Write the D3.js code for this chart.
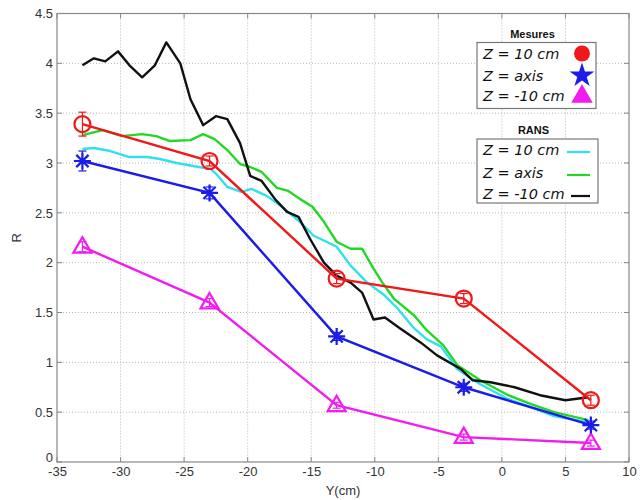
<!DOCTYPE html>
<html><head><meta charset="utf-8">
<script src="https://cdn.jsdelivr.net/npm/d3@7"></script>
<style>body{margin:0;background:#fff}svg{display:block}</style>
</head><body>
<svg id="c" width="643" height="500"></svg>
<script>
// ---------- data ----------
const xTicks = [-35,-30,-25,-20,-15,-10,-5,0,5,10];
const yTicks = [0,0.5,1,1.5,2,2.5,3,3.5,4,4.5];
const yTickLabels = ["0","0.5","1","1.5","2","2.5","3","3.5","4","4.5"];

const measX = [-33,-23,-13,-3,7];
const measZ10 = [3.39,3.02,1.84,1.64,0.62];
const measAxis = [3.02,2.70,1.26,0.75,0.37];
const measZm10 = [2.16,1.60,0.57,0.25,0.19];
const errZ10 = [0.12,0.05,0.05,0.05,0.05];
const errAxis = [0.10,0.06,0.04,0.04,0.04];
const errZm10 = [0.05,0.04,0.03,0.03,0.03];

const ransZ10X = [-33,-32.1,-30.8,-29.3,-27.9,-26.9,-25.6,-24.3,-22.9,-22.4,-21.6,-20.5,-19.7,-18.5,-17.2,-15.9,-14.8,-13.8,-13,-11.9,-10.6,-9.3,-8.2,-6.9,-5.9,-4.8,-3.5,-1.7,0.5,2.3,4.1,6.8];
const ransZ10Y = [3.14,3.15,3.12,3.06,3.06,3.04,3.00,2.97,2.94,2.88,2.76,2.71,2.74,2.67,2.55,2.41,2.27,2.21,2.16,1.97,1.80,1.68,1.54,1.34,1.23,1.16,0.93,0.78,0.63,0.55,0.46,0.40];

const ransAxisX = [-33,-31.4,-29.9,-28.3,-27.2,-26.1,-24.5,-23.5,-22.6,-21.6,-20.6,-19.8,-18.9,-17.7,-16.8,-15.9,-14.9,-14,-13,-11.9,-11,-10.1,-9.4,-8.5,-6.9,-5.9,-4.6,-3.5,-1.7,0.5,2.3,4.1,6.8];
const ransAxisY = [3.28,3.33,3.27,3.29,3.27,3.22,3.23,3.29,3.24,3.13,2.99,2.96,2.91,2.75,2.72,2.64,2.56,2.41,2.21,2.14,2.14,1.94,1.80,1.64,1.47,1.32,1.17,0.97,0.82,0.67,0.58,0.50,0.42];

const ransZm10X = [-33,-32.1,-31.2,-30.2,-29.3,-28.3,-27.3,-26.4,-25.3,-24.5,-23.5,-22.5,-21.6,-20.6,-19.8,-18.9,-17.8,-16.9,-16,-15.1,-14,-13,-11.9,-11,-10.1,-9.2,-8,-6.4,-5.1,-3.2,-2.3,-0.9,1,3,5,6.8];
const ransZm10Y = [3.98,4.05,4.02,4.12,3.98,3.86,3.98,4.21,4.00,3.64,3.38,3.47,3.44,3.20,2.87,2.82,2.63,2.51,2.46,2.24,2.00,1.87,1.80,1.70,1.43,1.45,1.34,1.20,1.07,0.93,0.82,0.80,0.75,0.67,0.62,0.65];

const legendMeas = ["Z = 10 cm","Z = axis","Z = -10 cm"];
const legendRans = ["Z = 10 cm","Z = axis","Z = -10 cm"];

// ---------- layout ----------
const svg = d3.select("#c");
const L=57, R=629, T=13.5, B=462;
const x = d3.scaleLinear().domain([-35,10]).range([L,R]);
const y = d3.scaleLinear().domain([0,4.5]).range([B,T]);

const cRed="#f01818", cBlue="#1c1ce8", cMag="#f01cf0", cCyan="#30e0f0", cGreen="#22d822", cBlack="#111";

// grid
const grid = svg.append("g");
grid.selectAll("line.gx").data(xTicks.slice(1,-1)).join("line")
  .attr("x1",d=>x(d)).attr("x2",d=>x(d)).attr("y1",T).attr("y2",B)
  .attr("stroke","#b8b8b8").attr("stroke-width",1).attr("stroke-dasharray","1,2");
grid.selectAll("line.gy").data(yTicks.slice(1,-1)).join("line")
  .attr("x1",L).attr("x2",R).attr("y1",d=>y(d)).attr("y2",d=>y(d))
  .attr("stroke","#b8b8b8").attr("stroke-width",1).attr("stroke-dasharray","1,2");

// axes
const ax = svg.append("g").attr("transform",`translate(0,${B})`)
  .call(d3.axisBottom(x).tickValues(xTicks).tickSize(0).tickPadding(6).tickFormat(d=>String(d)));
const ay = svg.append("g").attr("transform",`translate(${L},0)`)
  .call(d3.axisLeft(y).tickValues(yTicks).tickSize(0).tickPadding(4).tickFormat((d,i)=>yTickLabels[i]));
[ax,ay].forEach(g=>{
  g.select(".domain").remove();
  g.selectAll("text").attr("font-family","'Liberation Sans',Arial,sans-serif").attr("font-size",13).attr("fill","#333");
});
ax.selectAll("text").attr("dy","0.6em");
ay.selectAll("text").filter(d=>d===0).attr("dy","-0.05em");
// inner ticks on all sides
const tk = svg.append("g").attr("stroke","#888").attr("stroke-width",1);
xTicks.forEach(v=>{
  tk.append("line").attr("x1",x(v)).attr("x2",x(v)).attr("y1",B).attr("y2",B-5);
  tk.append("line").attr("x1",x(v)).attr("x2",x(v)).attr("y1",T).attr("y2",T+5);
});
yTicks.forEach(v=>{
  tk.append("line").attr("x1",L).attr("x2",L+5).attr("y1",y(v)).attr("y2",y(v));
  tk.append("line").attr("x1",R).attr("x2",R-5).attr("y1",y(v)).attr("y2",y(v));
});
svg.append("rect").attr("x",L).attr("y",T).attr("width",R-L).attr("height",B-T)
  .attr("fill","none").attr("stroke","#888").attr("stroke-width",1.2);

svg.append("text").attr("x",x(-12.5)).attr("y",495).attr("text-anchor","middle")
  .attr("font-family","'Liberation Sans',Arial,sans-serif").attr("font-size",13).attr("fill","#333").text("Y(cm)");
svg.append("text").attr("transform",`translate(21,${y(2.25)}) rotate(-90)`).attr("text-anchor","middle")
  .attr("font-family","'Liberation Sans',Arial,sans-serif").attr("font-size",13).attr("fill","#333").text("R");

// RANS lines
const line = d3.line().x(d=>x(d[0])).y(d=>y(d[1]));
const ransSeries = [
  {xs:ransAxisX, ys:ransAxisY, c:cGreen},
  {xs:ransZ10X, ys:ransZ10Y, c:cCyan},
  {xs:ransZm10X, ys:ransZm10Y, c:cBlack}
];
ransSeries.forEach(s=>{
  svg.append("path").datum(s.xs.map((v,i)=>[v,s.ys[i]])).attr("d",line)
    .attr("fill","none").attr("stroke",s.c).attr("stroke-width",2.4).attr("stroke-linejoin","round");
});

// measurements
const measSeries = [
  {ys:measZm10, e:errZm10, c:cMag, m:"tri"},
  {ys:measAxis, e:errAxis, c:cBlue, m:"star"},
  {ys:measZ10, e:errZ10, c:cRed, m:"circ"}
];
measSeries.forEach(s=>{
  const pts = measX.map((v,i)=>[v,s.ys[i],s.e[i]]);
  svg.append("path").datum(pts).attr("d",line).attr("fill","none").attr("stroke",s.c).attr("stroke-width",2.4);
  const g = svg.append("g").attr("stroke",s.c).attr("fill","none").attr("stroke-width",2.2);
  pts.forEach(p=>{
    const px=x(p[0]), py=y(p[1]), eu=y(p[1]+p[2]), ed=y(p[1]-p[2]);
    g.append("line").attr("x1",px).attr("x2",px).attr("y1",eu).attr("y2",ed).attr("stroke-width",1.2);
    g.append("line").attr("x1",px-4).attr("x2",px+4).attr("y1",eu).attr("y2",eu).attr("stroke-width",1.2);
    g.append("line").attr("x1",px-4).attr("x2",px+4).attr("y1",ed).attr("y2",ed).attr("stroke-width",1.2);
    if(s.m==="circ"){
      g.append("circle").attr("cx",px).attr("cy",py).attr("r",8);
    } else if(s.m==="star"){
      const r=8.5, q=r*0.72;
      g.append("path").attr("d",`M${px-r},${py}L${px+r},${py}M${px},${py-r}L${px},${py+r}M${px-q},${py-q}L${px+q},${py+q}M${px-q},${py+q}L${px+q},${py-q}`);
    } else {
      const r=9.5;
      g.append("path").attr("d",`M${px},${py-r}L${px+r*0.95},${py+r*0.62}L${px-r*0.95},${py+r*0.62}Z`);
    }
  });
});

// legends
const lf = "'DejaVu Sans',sans-serif";
function legend(x0,y0,w,h,title,labels,drawKey,rowY){
  svg.append("text").attr("x",x0+w/2-4).attr("y",y0-5).attr("text-anchor","middle")
    .attr("font-family","'Liberation Sans',Arial,sans-serif").attr("font-weight","bold").attr("font-size",11).attr("fill","#111").text(title);
  svg.append("rect").attr("x",x0).attr("y",y0).attr("width",w).attr("height",h)
    .attr("fill","#fff").attr("stroke","#777").attr("stroke-width",1.2);
  labels.forEach((t,i)=>{
    svg.append("text").attr("x",x0+6).attr("y",y0+rowY[i]+5).attr("font-family",lf).attr("font-style","italic")
      .attr("font-size",14.5).attr("fill","#111").text(t);
    drawKey(i, y0+rowY[i]);
  });
}
const legCol=[cRed,cBlue,cMag];
legend(477,42.5,119,66,"Mesures",legendMeas,(i,yy)=>{
  const types=[d3.symbolCircle,d3.symbolStar,d3.symbolTriangle];
  const sizes=[200,190,200];
  svg.append("path").attr("transform",`translate(582,${yy+(i===2?1:0)})`)
    .attr("d",d3.symbol().type(types[i]).size(sizes[i])()).attr("fill",legCol[i]);
},[11,33,53]);
const ransCol=[cCyan,cGreen,cBlack];
legend(477,139,121,64,"RANS",legendRans,(i,yy)=>{
  svg.append("line").attr("x1",i===2?571:567).attr("x2",590).attr("y1",yy+2).attr("y2",yy+2)
    .attr("stroke",ransCol[i]).attr("stroke-width",2.2);
},[11,34,55]);
</script>
</body></html>
